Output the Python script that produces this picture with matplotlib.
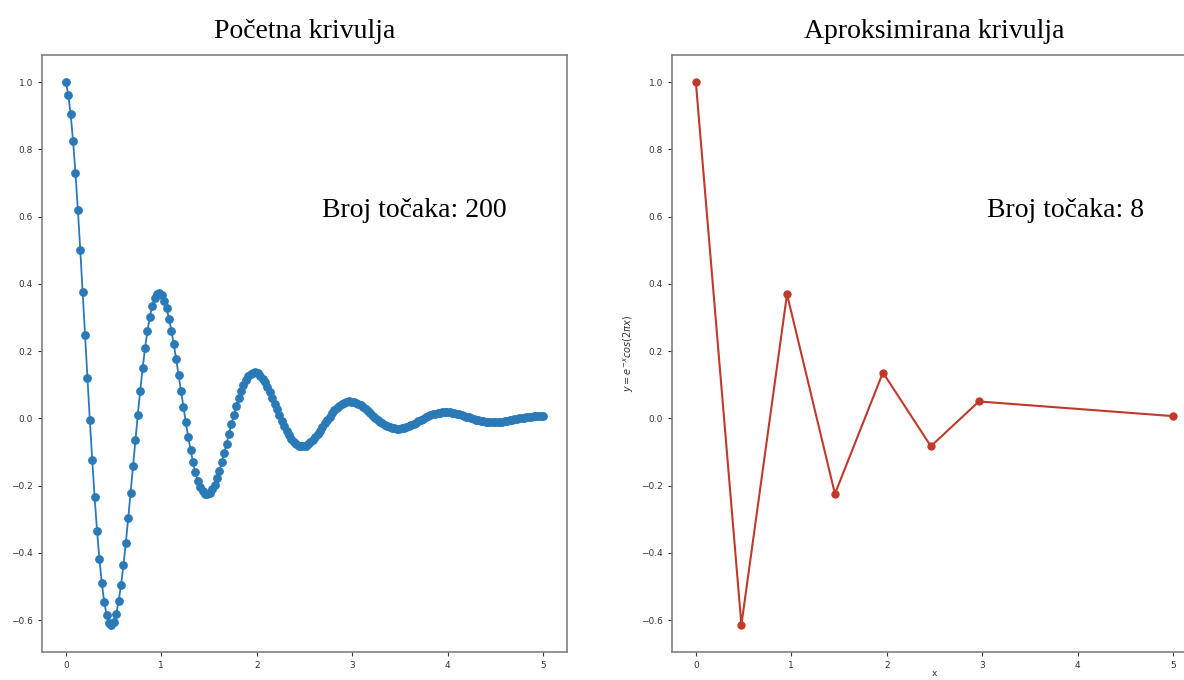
import matplotlib
matplotlib.use("Agg")
import matplotlib.pyplot as plt
import numpy as np

# y = e^-x cos(2 pi x), 200 samples on [0, 5]
y_full = [
    1.0000, 0.9631, 0.9040, 0.8253, 0.7300, 0.6212, 0.5022, 0.3766, 0.2478, 0.1192,
    -0.0061, -0.1252, -0.2353, -0.3341, -0.4197, -0.4910, -0.5462, -0.5852, -0.6078, -0.6142,
    -0.6050, -0.5811, -0.5441, -0.4952, -0.4365, -0.3698, -0.2970, -0.2207, -0.1425, -0.0645,
    0.0111, 0.0829, 0.1490, 0.2082, 0.2594, 0.3015, 0.3341, 0.3568, 0.3695, 0.3724,
    0.3659, 0.3506, 0.3273, 0.2971, 0.2609, 0.2200, 0.1756, 0.1291, 0.0817, 0.0345,
    -0.0112, -0.0544, -0.0942, -0.1296, -0.1602, -0.1852, -0.2043, -0.2175, -0.2246, -0.2257,
    -0.2212, -0.2115, -0.1969, -0.1782, -0.1559, -0.1309, -0.1038, -0.0755, -0.0467, -0.0181,
    0.0095, 0.0355, 0.0594, 0.0806, 0.0988, 0.1137, 0.1249, 0.1325, 0.1364, 0.1368,
    0.1337, 0.1275, 0.1184, 0.1068, 0.0931, 0.0778, 0.0613, 0.0440, 0.0266, 0.0093,
    -0.0074, -0.0231, -0.0374, -0.0501, -0.0609, -0.0697, -0.0763, -0.0807, -0.0829, -0.0829,
    -0.0808, -0.0769, -0.0712, -0.0640, -0.0556, -0.0462, -0.0361, -0.0256, -0.0150, -0.0046,
    0.0055, 0.0149, 0.0235, 0.0311, 0.0375, 0.0427, 0.0466, 0.0491, 0.0503, 0.0502,
    0.0488, 0.0463, 0.0428, 0.0384, 0.0332, 0.0274, 0.0213, 0.0149, 0.0085, 0.0022,
    -0.0039, -0.0096, -0.0147, -0.0193, -0.0231, -0.0262, -0.0285, -0.0299, -0.0306, -0.0304,
    -0.0295, -0.0279, -0.0257, -0.0230, -0.0198, -0.0163, -0.0125, -0.0087, -0.0048, -0.0009,
    0.0027, 0.0061, 0.0092, 0.0119, 0.0142, 0.0161, 0.0174, 0.0182, 0.0186, 0.0184,
    0.0178, 0.0168, 0.0155, 0.0138, 0.0118, 0.0097, 0.0074, 0.0050, 0.0027, 0.0003,
    -0.0019, -0.0039, -0.0058, -0.0074, -0.0088, -0.0098, -0.0106, -0.0111, -0.0113, -0.0112,
    -0.0108, -0.0101, -0.0093, -0.0082, -0.0070, -0.0057, -0.0043, -0.0029, -0.0015, -0.0001,
    0.0013, 0.0025, 0.0036, 0.0046, 0.0054, 0.0060, 0.0065, 0.0068, 0.0068, 0.0067,
]
x_full = np.linspace(0, 5, len(y_full))

# reduced curve: 8 points picked from the full one
x_approx = [0.0, 0.477, 0.955, 1.457, 1.960, 2.462, 2.965, 5.0]
y_approx = [1.0, -0.6142, 0.3695, -0.2246, 0.1364, -0.0829, 0.0503, 0.0067]

titles = ["Početna krivulja", "Aproksimirana krivulja"]

W, H = 1184, 680
fig = plt.figure(figsize=(W / 100, H / 100), dpi=100)

serif = ["Liberation Serif", "DejaVu Serif"]
spine_col = "#808080"


def style_axes(ax):
    for s in ax.spines.values():
        s.set_color(spine_col)
        s.set_linewidth(1.2)
    ax.tick_params(labelsize=6.5, colors="#333333", length=3, width=0.8)
    ax.set_yticks([-0.6, -0.4, -0.2, 0.0, 0.2, 0.4, 0.6, 0.8, 1.0])
    ax.set_xticks([0, 1, 2, 3, 4, 5])
    ax.set_xlim(-0.25, 5.25)
    ax.set_ylim(-0.695, 1.081)


ax1 = fig.add_axes([42 / W, 28 / H, 525 / W, 597 / H])
ax1.plot(x_full, y_full, color="#2a7ab8", marker="o", markersize=5.3, linewidth=1.3)
style_axes(ax1)
ax1.set_title(titles[0], fontsize=20, family=serif, pad=12)
ax1.text(2.68, 0.6, "Broj točaka: " + str(len(y_full)), fontsize=20, family=serif)

ax2 = fig.add_axes([672 / W, 28 / H, 525 / W, 597 / H])
ax2.plot(x_approx, y_approx, color="#c0392b", marker="o", markersize=5, linewidth=1.5)
style_axes(ax2)
ax2.set_title(titles[1], fontsize=20, family=serif, pad=12)
ax2.text(3.05, 0.6, "Broj točaka: " + str(len(y_approx)), fontsize=20, family=serif)
ax2.set_ylabel(r"$y = e^{-x} cos(2 \pi x)$", fontsize=7, color="#333333")
ax2.set_xlabel("x", fontsize=6.5, color="#333333", labelpad=-1)

fig.savefig("out.png", dpi=100)
